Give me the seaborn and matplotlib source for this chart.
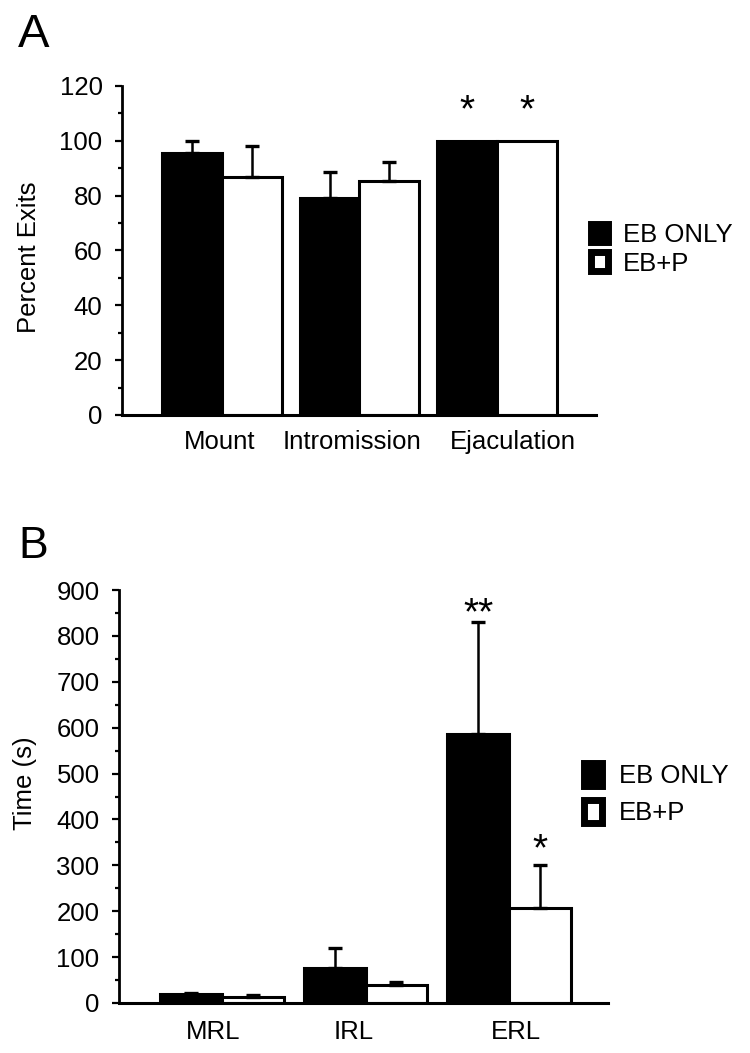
import matplotlib
matplotlib.use("Agg")
import matplotlib.pyplot as plt
import matplotlib.ticker as mticker
import matplotlib.transforms as mtransforms
from matplotlib.patches import Patch
import pandas as pd
import seaborn as sns

sns.set_style("ticks")
plt.rcParams["font.family"] = ["Liberation Sans", "DejaVu Sans"]
plt.rcParams.update({"text.color": "black", "axes.labelcolor": "black",
                     "xtick.color": "black", "ytick.color": "black",
                     "axes.edgecolor": "black"})

# data
groups = ["EB ONLY", "EB+P"]

behaviours = ["Mount", "Intromission", "Ejaculation"]
exits_eb = [95.7, 79.0, 100.0]
exits_ebp = [86.7, 85.5, 100.0]
exits_eb_err = [4.3, 9.5, 0.0]
exits_ebp_err = [11.5, 6.9, 0.0]

latencies = ["MRL", "IRL", "ERL"]
time_eb = [20, 77, 587]
time_ebp = [12.6, 38.5, 207]
time_eb_err = [2, 42, 243]
time_ebp_err = [4, 8, 93]

# significance marks: (category, group, text, baseline y)
stars_a = [("Ejaculation", "EB ONLY", "*", 107), ("Ejaculation", "EB+P", "*", 107)]
stars_b = [("ERL", "EB ONLY", "**", 826), ("ERL", "EB+P", "*", 311)]

palette = {"EB ONLY": "black", "EB+P": "white"}
FS = 18.5


def long_df(cats, a, b):
    return pd.DataFrame({
        "cat": cats * 2,
        "group": [groups[0]] * len(cats) + [groups[1]] * len(cats),
        "val": list(a) + list(b),
    })


def panel(ax, cats, a, b, a_err, b_err, stars, width):
    df = long_df(cats, a, b)
    sns.barplot(data=df, x="cat", y="val", hue="group", hue_order=groups,
                palette=palette, edgecolor="black", linewidth=2.2,
                width=width, errorbar=None, saturation=1, legend=False, ax=ax)
    # upper-only error bars on top of each bar
    for cont, errs in zip(ax.containers, [a_err, b_err]):
        for bar, e in zip(cont, errs):
            if e <= 0:
                continue
            x = bar.get_x() + bar.get_width() / 2
            ax.errorbar(x, bar.get_height(), yerr=[[0], [e]], fmt="none",
                        ecolor="black", elinewidth=1.8, capsize=5, capthick=2.4,
                        zorder=1)
    for cat, grp, txt, y in stars:
        bar = ax.containers[groups.index(grp)][cats.index(cat)]
        x = bar.get_x() + bar.get_width() / 2
        ax.text(x, y, txt, ha="center", va="baseline", fontsize=28)
    sns.despine(ax=ax)
    ax.spines["left"].set_linewidth(2)
    ax.spines["bottom"].set_linewidth(2.2)
    ax.tick_params(axis="y", which="major", length=5, width=1.6, labelsize=FS, pad=9)
    ax.tick_params(axis="y", which="minor", length=3, width=1.6)
    ax.tick_params(axis="x", length=0, labelsize=FS)
    ax.set_xlabel("")


def nudge_labels(ax, shifts_px):
    # the original labels sit a little off the group centres
    for lab, dx in zip(ax.get_xticklabels(), shifts_px):
        off = mtransforms.ScaledTranslation(dx / 100, 0, fig.dpi_scale_trans)
        lab.set_transform(lab.get_transform() + off)


fig = plt.figure(figsize=(7.5, 10.53), dpi=100)

# Panel A
ax1 = fig.add_axes([122 / 750, 1 - 415 / 1053, 474 / 750, 329 / 1053])
panel(ax1, behaviours, exits_eb, exits_ebp, exits_eb_err, exits_ebp_err, stars_a, 0.87)
ax1.set_xlim(-0.727, 2.72)
ax1.set_ylim(0, 120)
ax1.yaxis.set_major_locator(mticker.MultipleLocator(20))
ax1.yaxis.set_minor_locator(mticker.MultipleLocator(10))
ax1.set_ylabel("Percent Exits", fontsize=FS)
ax1.yaxis.set_label_coords(-0.171, 0.479)
ax1.tick_params(axis="x", pad=11)
nudge_labels(ax1, [-2, -7, 16])

# Panel B
ax2 = fig.add_axes([119 / 750, 1 - 1003 / 1053, 489 / 750, 413 / 1053])
panel(ax2, latencies, time_eb, time_ebp, time_eb_err, time_ebp_err, stars_b, 0.86)
ax2.set_xlim(-0.718, 2.69)
ax2.set_ylim(0, 900)
ax2.yaxis.set_major_locator(mticker.MultipleLocator(100))
ax2.yaxis.set_minor_locator(mticker.MultipleLocator(50))
ax2.set_ylabel("Time (s)", fontsize=FS)
ax2.yaxis.set_label_coords(-0.167, 0.533)
ax2.tick_params(axis="x", pad=12)
nudge_labels(ax2, [-9, -12, 7])

# legends
handles = [Patch(facecolor="black", edgecolor="black", linewidth=5),
           Patch(facecolor="white", edgecolor="black", linewidth=5)]
fig.legend(handles, groups, loc="upper left", bbox_to_anchor=(590.5 / 750, 1 - 223 / 1053),
           frameon=False, fontsize=FS, borderpad=0, borderaxespad=0,
           handlelength=0.7, handleheight=0.72, handletextpad=0.55, labelspacing=0.18)
fig.legend(handles, groups, loc="upper left", bbox_to_anchor=(584 / 750, 1 - 763 / 1053),
           frameon=False, fontsize=FS, borderpad=0, borderaxespad=0,
           handlelength=0.7, handleheight=1.0, handletextpad=0.65, labelspacing=0.45)

fig.text(18 / 750, 1 - 47 / 1053, "A", fontsize=34, ha="left", va="baseline")
fig.text(18 / 750, 1 - 558 / 1053, "B", fontsize=32, ha="left", va="baseline")

fig.savefig("out.png", dpi=100)
